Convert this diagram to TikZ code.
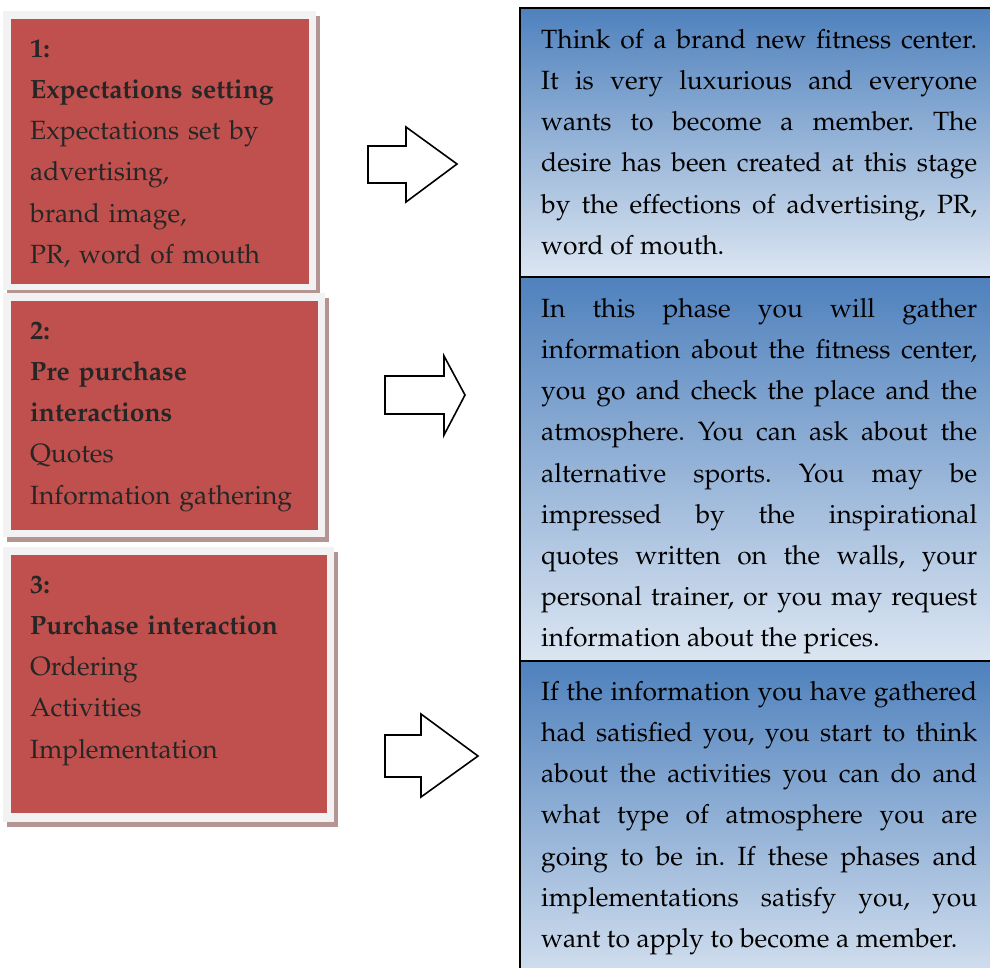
\documentclass[tikz,border=0pt]{standalone}
\usepackage[T1]{fontenc}
\usepackage{mathpazo}
\definecolor{redc}{HTML}{C0504D}
\definecolor{framec}{HTML}{F2F2F2}
\definecolor{shadowc}{HTML}{B59494}
\definecolor{textc}{HTML}{262626}
\definecolor{bluetop}{HTML}{4F81BD}
\definecolor{bluebot}{HTML}{DCE6F2}
\newcommand{\jl}{\linebreak}
\newcommand{\descpar}{\frenchspacing\hyphenpenalty 10000 \exhyphenpenalty 10000 \tolerance 9999 \emergencystretch 20pt\relax\strut}
\tikzset{
  stagetext/.style={anchor=north west, inner sep=0pt, text width=290pt, align=left,
    text=textc, font=\fontsize{26.4}{41.2}\selectfont},
  desctext/.style={anchor=north west, inner sep=0pt, text width=436pt, align=justify,
    text=black, font=\fontsize{26.4}{41.2}\selectfont},
  blockarrow/.style={draw=black, line width=1.6pt, fill=white, line join=miter},
  descbox/.style={draw=black, line width=1.6pt},
}
\begin{document}
\begin{tikzpicture}[x=1pt,y=-1pt]
\useasboundingbox (0,0) rectangle (990,967);
\clip (0,0) rectangle (990,967);
% ---------- red stage boxes ----------
\fill[shadowc] (7,16) rectangle (320,295);
\fill[framec] (3,11) rectangle (316,290);
\fill[redc] (11,19) rectangle (309,284);
\fill[shadowc] (7,298) rectangle (329,542);
\fill[framec] (3,293) rectangle (325,537);
\fill[redc] (11,301) rectangle (318,530);
\fill[shadowc] (7,552) rectangle (338,827);
\fill[framec] (3,547) rectangle (334,822);
\fill[redc] (11,555) rectangle (327,813);
\node[stagetext] (s1) at (30,28.16) {\strut\textbf{1:}\\\textbf{Expectations setting}\\Expectations set by\\advertising,\\brand image,\\PR, word of mouth};
\node[stagetext] (s2) at (30,310.2) {\strut\textbf{2:}\\\textbf{Pre purchase}\\\textbf{interactions}\\Quotes\\Information gathering};
\node[stagetext] (s3) at (30,564.2) {\strut\textbf{3:}\\\textbf{Purchase interaction}\\Ordering\\Activities\\Implementation};
% ---------- blue description boxes ----------
\shade[top color=bluetop, bottom color=bluebot] (520,8) rectangle (1000,277);
\shade[top color=bluetop, bottom color=bluebot] (520,277) rectangle (1000,661);
\shade[top color=bluetop, bottom color=bluebot] (520,661) rectangle (1000,1000);
\draw[descbox] (520,8) rectangle (1000,277);
\draw[descbox] (520,277) rectangle (1000,661);
\draw[descbox] (520,661) rectangle (1000,1000);
\node[desctext] (d1) at (541,19.2) {\descpar Think of a brand new fitness center.\jl{} It is very luxurious and everyone\jl{} wants to become a member. The\jl{} desire has been created at this stage\jl{} by the effections of advertising, PR,\jl{} word of mouth.};
\node[desctext] (d2) at (541,288.2) {\descpar In this phase you will gather\jl{} information about the fitness center,\jl{} you go and check the place and the\jl{} atmosphere. You can ask about the\jl{} alternative sports. You may be\jl{} impressed by the inspirational\jl{} quotes written on the walls, your\jl{} personal trainer, or you may request\jl{} information about the prices.};
\node[desctext] (d3) at (541,671.2) {\descpar If the information you have gathered\jl{} had satisfied you, you start to think\jl{} about the activities you can do and\jl{} what type of atmosphere you are\jl{} going to be in. If these phases and\jl{} implementations satisfy you, you\jl{} want to apply to become a member.};
% ---------- block arrows ----------
\draw[blockarrow] (368,146) -- (406,146) -- (406,127) -- (457,164) -- (406,202) -- (406,183) -- (368,183) -- cycle;
\draw[blockarrow] (385,376) -- (444,376) -- (444,356) -- (465,395) -- (444,435) -- (444,414) -- (385,414) -- cycle;
\draw[blockarrow] (385,735) -- (421,735) -- (421,714) -- (478,756) -- (421,797) -- (421,777) -- (385,777) -- cycle;
\end{tikzpicture}
\end{document}
